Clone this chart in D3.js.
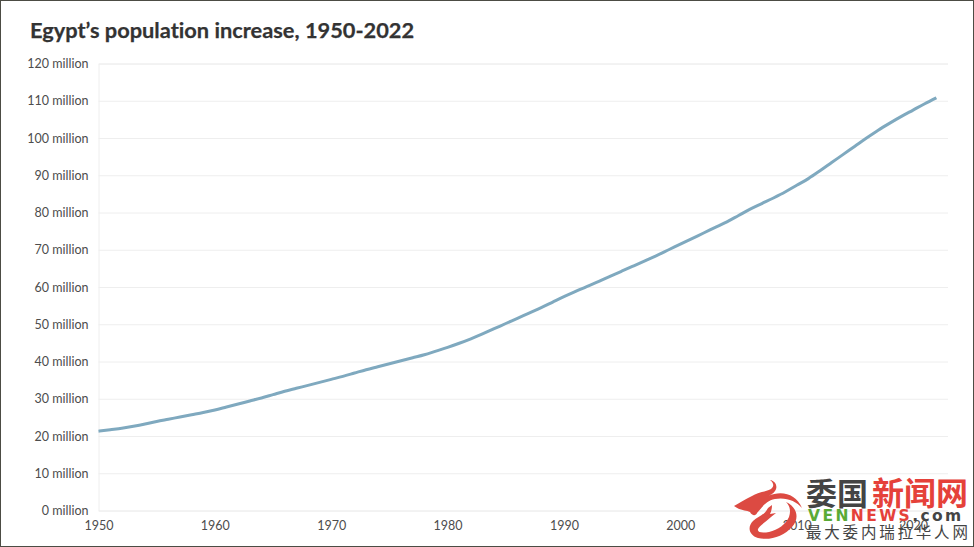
<!DOCTYPE html>
<html>
<head>
<meta charset="utf-8">
<script src="https://cdn.jsdelivr.net/npm/d3@7"></script>
<style>
  html, body { margin: 0; padding: 0; background: #fff; }
  svg { display: block; font-family: Lato, "Noto Sans", sans-serif; font-variant-ligatures: none; }
</style>
</head>
<body>
<svg id="chart" width="974" height="547"></svg>
<script>
const years = d3.range(1950, 2023);
const population = [
  21.3, 21.7, 22.1, 22.6, 23.2, 23.9, 24.5, 25.1, 25.7, 26.3,
  27.0, 27.8, 28.6, 29.4, 30.2, 31.1, 32.0, 32.8, 33.6, 34.4,
  35.2, 36.0, 36.9, 37.8, 38.6, 39.4, 40.2, 41.0, 41.8, 42.8,
  43.8, 44.9, 46.1, 47.4, 48.8, 50.2, 51.6, 53.0, 54.4, 55.9,
  57.4, 58.8, 60.2, 61.5, 62.9, 64.3, 65.7, 67.1, 68.5, 70.0,
  71.5, 73.0, 74.5, 76.0, 77.5, 79.2, 80.9, 82.4, 83.9, 85.5,
  87.3, 89.1, 91.2, 93.4, 95.6, 97.8, 100.0, 102.1, 104.0, 105.8,
  107.5, 109.2, 110.8
];
const yTicks = d3.range(0, 121, 10);
const xTicks = d3.range(1950, 2021, 10);
const title = 'Egypt’s population increase, 1950-2022';

const svg = d3.select('#chart');
const x = d3.scaleLinear().domain([1950, 2023]).range([98.5, 948]);
const y = d3.scaleLinear().domain([0, 120]).range([510.5, 63.5]);

svg.append('rect')
  .attr('x', 0.5).attr('y', 0.5)
  .attr('width', 973).attr('height', 546)
  .attr('fill', '#fff')
  .attr('stroke', '#4c4c44');

svg.append('text')
  .attr('x', 30).attr('y', 38)
  .attr('font-size', 21.8)
  .attr('font-weight', 700)
  .attr('fill', '#333')
  .attr('stroke', '#333')
  .attr('stroke-width', 0.25)
  .text(title);

// y axis, the ticks run across as grid lines
const yAxis = svg.append('g')
  .attr('transform', `translate(98.5,0)`)
  .call(d3.axisLeft(y).tickValues(yTicks).tickSize(-849.5).tickPadding(10).tickFormat(d => `${d} million`));
yAxis.select('.domain').attr('stroke', '#eee');
yAxis.selectAll('line').attr('stroke', '#eee');
yAxis.selectAll('text').attr('fill', '#4d4d4d').attr('font-size', 12.5).attr('font-family', 'Lato');

const xAxis = svg.append('g')
  .attr('transform', `translate(0,510.5)`)
  .call(d3.axisBottom(x).tickValues(xTicks).tickSize(0).tickPadding(11).tickFormat(d3.format('d')));
xAxis.select('.domain').remove();
xAxis.selectAll('text').attr('fill', '#4d4d4d').attr('font-size', 12.5).attr('font-family', 'Lato');

const line = d3.line()
  .x((d, i) => x(years[i]))
  .y(d => y(d))
  .curve(d3.curveMonotoneX);

svg.append('path')
  .datum(population)
  .attr('d', line)
  .attr('fill', 'none')
  .attr('stroke', '#7fa9bf')
  .attr('stroke-width', 3);

// site watermark over the bottom right corner
const mark = svg.append('g');
mark.append('path')
  .attr('d', 'M734 506 C740 503 745 499 752 496 C758 492 765 492 771 489 C775 486 773 482 770 480 C776 481 778 487 775 491 C773 494 770 495 768 496 C782 490 796 494 802 508 C796 501 786 497 775 499 C765 501 762 508 757 513 C756 516 752 516 750 512 C746 510 741 511 734 506 Z')
  .attr('fill', '#dc4a42');
mark.append('path')
  .attr('d', 'M786 502 C797 507 800 518 792 527 C784 536 770 541 758 538 C749 535 747 527 753 521 C758 516 764 516 768 508 L772 505 C772 509 771 512 770 514 L776 513 L771 517 C766 522 760 525 758 529 C757 533 763 533 769 532 C778 530 786 524 789 517 C791 511 790 506 786 502 Z')
  .attr('fill', '#dc4a42');
mark.append('text')
  .attr('x', 806).attr('y', 505)
  .attr('font-family', '"Noto Sans CJK SC"').attr('font-weight', 700)
  .attr('font-size', 31).attr('fill', '#444')
  .text('委国');
mark.append('text')
  .attr('x', 872).attr('y', 505)
  .attr('font-family', '"Noto Sans CJK SC"').attr('font-weight', 700)
  .attr('font-size', 32).attr('fill', '#e5413a')
  .text('新闻网');
const brand = mark.append('text')
  .attr('x', 808).attr('y', 521)
  .attr('font-family', '"DejaVu Sans"').attr('font-weight', 700)
  .attr('font-size', 15.5).attr('letter-spacing', 2.4);
brand.append('tspan').attr('fill', '#5aaa35').text('VEN');
brand.append('tspan').attr('fill', '#e5413a').text('NEWS');
brand.append('tspan').attr('fill', '#444').text('.com');
mark.append('text')
  .attr('x', 806).attr('y', 538)
  .attr('font-family', '"Noto Sans CJK SC"')
  .attr('font-size', 15.5).attr('letter-spacing', 2.8)
  .attr('fill', '#444')
  .text('最大委内瑞拉华人网');
</script>
</body>
</html>
